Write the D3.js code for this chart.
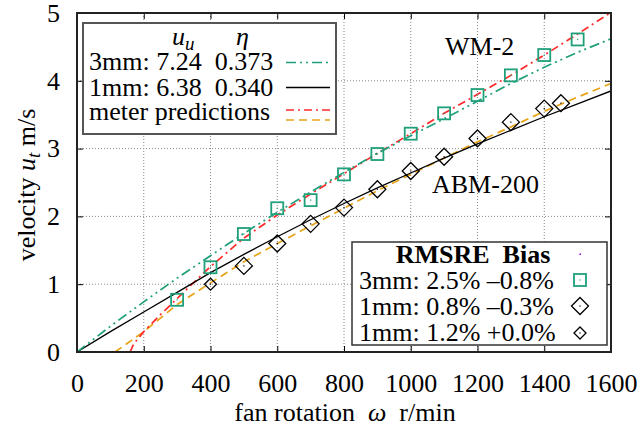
<!DOCTYPE html>
<html><head><meta charset="utf-8">
<script src="https://cdn.jsdelivr.net/npm/d3@7"></script>
<style>body{margin:0;background:#fff}svg{display:block}text{font-family:"Liberation Serif","DejaVu Serif",serif;fill:#000}</style>
</head><body>
<svg id="c" width="637" height="431"></svg>
<script>
const xTicks = [0,200,400,600,800,1000,1200,1400,1600];
const yTicks = [0,1,2,3,4,5];
// measured points
const sq3mmX = [300,400,500,600,700,800,900,1000,1100,1200,1300,1400,1500];
const sq3mmY = [0.77,1.25,1.74,2.12,2.24,2.62,2.92,3.22,3.52,3.79,4.08,4.38,4.61];
const dia1mmX = [500,600,700,800,900,1000,1100,1200,1300,1400,1450];
const dia1mmY = [1.27,1.60,1.89,2.13,2.40,2.67,2.88,3.15,3.39,3.59,3.67];
const dia1mmbX = [400];
const dia1mmbY = [1.00];
// fitted curves
const fit3X = [0,100,200,300,400,500,600,700,800,900,1000,1100,1200,1300,1400,1500,1600];
const fit3Y = [0,0.38,0.74,1.09,1.42,1.75,2.06,2.36,2.65,2.93,3.19,3.44,3.70,3.96,4.20,4.42,4.62];
const fit1X = [0,100,200,300,400,500,600,700,800,900,1000,1100,1200,1300,1400,1500,1600];
const fit1Y = [0,0.30,0.59,0.88,1.17,1.44,1.70,1.95,2.19,2.42,2.64,2.86,3.07,3.27,3.47,3.66,3.85];
// meter predictions
const predWX = [159,170,200,250,300,400,500,600,700,800,900,1000,1100,1200,1300,1400,1500,1600];
const predWY = [0,0.12,0.30,0.55,0.79,1.26,1.68,2.02,2.33,2.63,2.93,3.22,3.52,3.80,4.08,4.38,4.69,5.01];
const predAX = [114,200,300,400,500,600,700,800,900,1000,1100,1200,1300,1400,1500,1600];
const predAY = [0,0.30,0.70,1.02,1.33,1.60,1.86,2.12,2.38,2.62,2.86,3.10,3.32,3.55,3.76,3.96];

const C_TEAL="#1fa07a", C_RED="#ff2a2a", C_ORANGE="#e8a317", C_PURPLE="#9400d3";
const FS="26px";
const svg = d3.select("#c");
const L=77,R=611,T=13,B=352;
const x = d3.scaleLinear().domain([0,1600]).range([L,R]);
const y = d3.scaleLinear().domain([0,5]).range([B,T]);

// grid
const g = svg.append("g");
g.selectAll(".gx").data(xTicks.slice(1,-1)).enter().append("line")
 .attr("x1",d=>x(d)).attr("x2",d=>x(d)).attr("y1",T).attr("y2",B)
 .attr("stroke","#888").attr("stroke-width",1).attr("stroke-dasharray","1,2");
g.selectAll(".gy").data(yTicks.slice(1,-1)).enter().append("line")
 .attr("y1",d=>y(d)).attr("y2",d=>y(d)).attr("x1",L).attr("x2",R)
 .attr("stroke","#888").attr("stroke-width",1).attr("stroke-dasharray","1,2");

// axes
const xa = svg.append("g").attr("transform",`translate(0,${B})`)
 .call(d3.axisBottom(x).tickValues(xTicks).tickSize(-6).tickPadding(22).tickFormat(d3.format("d")));
const xt = svg.append("g").attr("transform",`translate(0,${T})`)
 .call(d3.axisTop(x).tickValues(xTicks).tickSize(-6).tickFormat(""));
const ya = svg.append("g").attr("transform",`translate(${L},0)`)
 .call(d3.axisLeft(y).tickValues(yTicks).tickSize(-6).tickPadding(17).tickFormat(d3.format("d")));
const yr = svg.append("g").attr("transform",`translate(${R},0)`)
 .call(d3.axisRight(y).tickValues(yTicks).tickSize(-6).tickFormat(""));
[xa,xt,ya,yr].forEach(a=>{a.select(".domain").remove();a.selectAll("line").attr("stroke","#000");
 a.selectAll("text").style("font-size",FS).style("font-family","Liberation Serif");});

// clip
svg.append("clipPath").attr("id","clip").append("rect").attr("x",L).attr("y",T).attr("width",R-L).attr("height",B-T);
const plot = svg.append("g").attr("clip-path","url(#clip)");
const line = d3.line().x(d=>x(d[0])).y(d=>y(d[1]));
function drawLine(xs,ys,col,dash,w){
 plot.append("path").datum(xs.map((v,i)=>[v,ys[i]])).attr("d",line)
  .attr("fill","none").attr("stroke",col).attr("stroke-width",w||1.5).attr("stroke-dasharray",dash||null);
}
drawLine(predAX,predAY,C_ORANGE,"8,5",1.7);
drawLine(predWX,predWY,C_RED,"8,4,2,4",1.7);
drawLine(fit1X,fit1Y,"#000",null,1.3);
drawLine(fit3X,fit3Y,C_TEAL,"10,4,2,4,2,4",1.7);

function square(sel,cx,cy){
 sel.append("rect").attr("x",cx-6).attr("y",cy-6).attr("width",12).attr("height",12)
  .attr("fill","none").attr("stroke",C_TEAL).attr("stroke-width",1.8);
 sel.append("rect").attr("x",cx-0.6).attr("y",cy-0.6).attr("width",1.2).attr("height",1.2).attr("fill",C_TEAL);
}
function diamond(sel,cx,cy,r){
 sel.append("path").attr("d",`M${cx},${cy-r}L${cx+r},${cy}L${cx},${cy+r}L${cx-r},${cy}Z`)
  .attr("fill","none").attr("stroke","#000").attr("stroke-width",1.3);
 sel.append("rect").attr("x",cx-0.6).attr("y",cy-0.6).attr("width",1.2).attr("height",1.2).attr("fill","#000");
}
const pts = svg.append("g");
sq3mmX.forEach((v,i)=>square(pts,x(v),y(sq3mmY[i])));
dia1mmX.forEach((v,i)=>diamond(pts,x(v),y(dia1mmY[i]),8.5));
dia1mmbX.forEach((v,i)=>diamond(pts,x(v),y(dia1mmbY[i]),6));

// frame
svg.append("rect").attr("x",L).attr("y",T).attr("width",R-L).attr("height",B-T)
 .attr("fill","none").attr("stroke","#222").attr("stroke-width",2);

// legend 1
const lg1 = svg.append("g");
lg1.append("rect").attr("x",83).attr("y",23).attr("width",253).attr("height",111).attr("fill","#fff").attr("stroke","#555").attr("stroke-width",2);
lg1.append("text").attr("x",172).attr("y",45).style("font-size",FS).style("font-style","italic").html('u<tspan dy="5" font-size="19">u</tspan>');
lg1.append("text").attr("x",236).attr("y",45).style("font-size",FS).style("font-style","italic").text("η");
const lg1rows=[["3mm: 7.24  0.373",C_TEAL,"10,4,2,4,2,4"],["1mm: 6.38  0.340","#000",null]];
lg1rows.forEach((r,i)=>{
 lg1.append("text").attr("x",89).attr("y",70+i*25.5).style("font-size",FS).attr("xml:space","preserve").text(r[0]);
 lg1.append("line").attr("x1",286).attr("x2",330).attr("y1",62.5+i*25).attr("y2",62.5+i*25).attr("stroke",r[1]).attr("stroke-width",1.5).attr("stroke-dasharray",r[2]);
});
lg1.append("text").attr("x",89).attr("y",120).style("font-size",FS).text("meter predictions");
lg1.append("line").attr("x1",286).attr("x2",330).attr("y1",110).attr("y2",110).attr("stroke",C_RED).attr("stroke-width",1.7).attr("stroke-dasharray","8,4,2,4");
lg1.append("line").attr("x1",286).attr("x2",330).attr("y1",120).attr("y2",120).attr("stroke",C_ORANGE).attr("stroke-width",1.7).attr("stroke-dasharray","8,5");

// legend 2
const lg2 = svg.append("g");
lg2.append("rect").attr("x",352).attr("y",242).attr("width",255).attr("height",103).attr("fill","#fff").attr("stroke","#333").attr("stroke-width",1.5);
lg2.append("text").attr("x",473).attr("y",263).attr("text-anchor","middle").style("font-size",FS).style("font-weight","bold").attr("xml:space","preserve").text("RMSRE  Bias");
lg2.append("rect").attr("x",579.5).attr("y",253.5).attr("width",1.5).attr("height",1.5).attr("fill",C_PURPLE);
const lg2rows=["3mm: 2.5% \u20130.8%","1mm: 0.8% \u20130.3%","1mm: 1.2% +0.0%"];
lg2rows.forEach((t,i)=>lg2.append("text").attr("x",359).attr("y",289+i*26).style("font-size",FS).text(t));
square(lg2,580,280);
diamond(lg2,580,306,8.5);
diamond(lg2,580,333,6);

// annotations
svg.append("text").attr("x",445).attr("y",55).style("font-size",FS).text("WM-2");
svg.append("text").attr("x",432).attr("y",193).style("font-size",FS).text("ABM-200");

// axis labels
svg.append("text").attr("x",345).attr("y",421).attr("text-anchor","middle").style("font-size",FS).attr("xml:space","preserve")
 .html('fan rotation  <tspan font-style="italic">ω</tspan>  r/min');
svg.append("text").attr("transform","translate(35,185) rotate(-90)").attr("text-anchor","middle").style("font-size",FS)
 .html('velocity <tspan font-style="italic">u</tspan><tspan font-style="italic" font-size="19" dy="5">t</tspan><tspan dy="-5"> m/s</tspan>');
</script>
</body></html>
